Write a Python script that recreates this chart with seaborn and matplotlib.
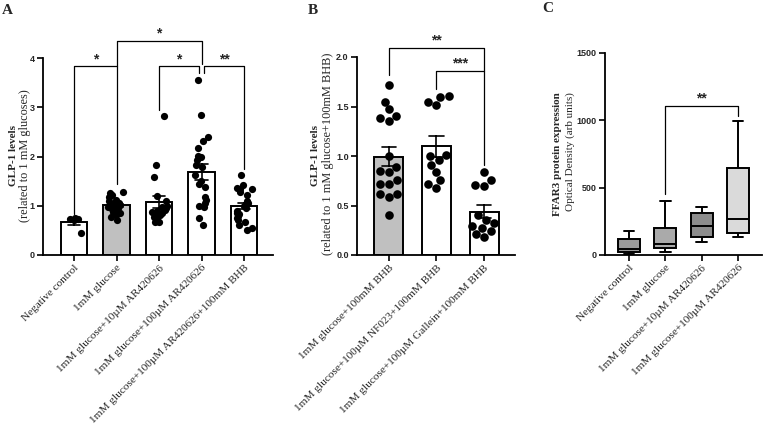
import numpy as np
import pandas as pd
import matplotlib
matplotlib.use("Agg")
import matplotlib.pyplot as plt
import seaborn as sns

# ---------------- Data ----------------
# Panel A : GLP-1 levels (related to 1 mM glucose)
a_labels = ["Negative control", "1mM glucose", "1mM glucose+10µM AR420626",
            "1mM glucose+100µM AR420626", "1mM glucose+100µM AR420626+100mM BHB"]
a_neg = [0.75, 0.74, 0.73, 0.71, 0.45]
a_glc = [1.28, 1.26, 1.22, 1.18, 1.12, 1.10, 1.08, 1.05, 1.03, 1.01, 0.99, 0.97,
         0.95, 0.93, 0.90, 0.88, 0.86, 0.82, 0.78, 0.71]
a_ar10 = [2.82, 1.82, 1.58, 1.20, 1.10, 1.00, 0.98, 0.95, 0.92, 0.90, 0.88, 0.85,
          0.82, 0.80, 0.78, 0.72, 0.68, 0.66]
a_ar100 = [3.55, 2.85, 2.40, 2.32, 2.18, 2.02, 1.98, 1.93, 1.82, 1.78, 1.62, 1.50,
           1.45, 1.38, 1.12, 1.18, 1.05, 1.00, 0.98, 0.75, 0.60]
a_bhb = [1.62, 1.42, 1.36, 1.35, 1.33, 1.28, 1.22, 1.10, 1.05, 1.00, 0.95, 0.90,
         0.86, 0.83, 0.80, 0.76, 0.72, 0.66, 0.60, 0.55, 0.50]
a_colors = ["white", "#c0c0c0", "white", "white", "white"]

# Panel B : GLP-1 levels (related to 1 mM glucose+100mM BHB)
b_labels = ["1mM glucose+100mM BHB", "1mM glucose+100µM NF023+100mM BHB",
            "1mM glucose+100µM Gallein+100mM BHB"]
b_bhb = [1.72, 1.55, 1.47, 1.40, 1.38, 1.35, 1.00, 0.89, 0.85, 0.84, 0.76, 0.72,
         0.72, 0.62, 0.62, 0.59, 0.40]
b_nf023 = [1.61, 1.60, 1.55, 1.52, 1.01, 1.00, 0.96, 0.91, 0.84, 0.76, 0.72, 0.68]
b_gallein = [0.84, 0.76, 0.71, 0.70, 0.40, 0.35, 0.32, 0.29, 0.27, 0.24, 0.21, 0.18]
b_colors = ["#c0c0c0", "white", "white"]

# Panel C : FFAR3 protein expression (min, Q1, median, Q3, max)
c_labels = ["Negative control", "1mM glucose", "1mM glucose+10µM AR420626",
            "1mM glucose+100µM AR420626"]
c_neg = [5, 20, 45, 120, 180]
c_glc = [25, 50, 80, 200, 400]
c_ar10 = [100, 135, 215, 310, 355]
c_ar100 = [130, 160, 270, 645, 995]
c_colors = ["#9a9a9a", "#aaaaaa", "#8c8c8c", "#dadada"]


def long_df(groups, labels):
    rows = []
    for lab, vals in zip(labels, groups):
        for v in vals:
            rows.append((lab, v))
    return pd.DataFrame(rows, columns=["group", "value"])


dfA = long_df([a_neg, a_glc, a_ar10, a_ar100, a_bhb], a_labels)
dfB = long_df([b_bhb, b_nf023, b_gallein], b_labels)
dfC = long_df([c_neg, c_glc, c_ar10, c_ar100], c_labels)

# ---------------- Style ----------------
sns.set_theme(style="ticks")
plt.rcParams["font.family"] = ["Liberation Serif", "DejaVu Serif"]
SERIF = ["Liberation Serif", "DejaVu Serif"]
SANS = ["Liberation Sans", "DejaVu Sans"]

W, H = 764, 428
fig = plt.figure(figsize=(W / 100, H / 100), dpi=100)


def px_axes(x0, y0, x1, y1):
    return fig.add_axes([x0 / W, 1 - y1 / H, (x1 - x0) / W, (y1 - y0) / H])


def fig_text(x, y, s, **kw):
    fig.text(x / W, 1 - y / H, s, **kw)


def style_axis(ax, labels, yticks, ytl):
    for s in ["top", "right"]:
        ax.spines[s].set_visible(False)
    for s in ["left", "bottom"]:
        ax.spines[s].set_linewidth(1.3)
        ax.spines[s].set_color("black")
    ax.set_yticks(yticks)
    ax.set_yticklabels(ytl, fontfamily=SANS, fontweight="bold", fontsize=6.5)
    ax.set_xticks(range(len(labels)))
    ax.set_xticklabels(labels, rotation=45, ha="right", va="top",
                       rotation_mode="anchor", fontfamily=SERIF, fontsize=8.1)
    ax.tick_params(axis="both", length=4, width=1.2, color="black", pad=2)
    ax.tick_params(axis="x", pad=2)
    ax.set_xlabel("")
    ax.set_ylabel("")


def bracket(ax, x1, x2, ytop, yl, yr, star, ystar, fs=10):
    ax.plot([x1, x1, x2, x2], [yl, ytop, ytop, yr], color="black", lw=0.9,
            clip_on=False, zorder=6)
    ax.text((x1 + x2) / 2, ystar, star, ha="center", va="center",
            fontsize=fs, fontweight="bold", fontfamily=SANS, clip_on=False)


# ---------------- Panel A ----------------
np.random.seed(3)
axA = px_axes(43, 58, 273, 255)
sns.barplot(data=dfA, x="group", y="value", hue="group", order=a_labels,
            hue_order=a_labels, palette=a_colors, legend=False, width=0.63,
            edgecolor="black", linewidth=1.4, errorbar="se", capsize=0.3,
            err_kws={"color": "black", "linewidth": 1.2, "zorder": 5}, ax=axA)
sns.stripplot(data=dfA, x="group", y="value", order=a_labels, color="black",
              size=5.2, jitter=0.2, ax=axA, zorder=4)
axA.set_ylim(0, 4)
axA.set_xlim(-0.73, 4.68)
style_axis(axA, a_labels, [0, 1, 2, 3, 4], ["0", "1", "2", "3", "4"])
bracket(axA, 0, 1, 3.83, 0.84, 1.45, "*", 3.97)
bracket(axA, 1, 3, 4.35, 3.83, 3.88, "*", 4.5)
bracket(axA, 2, 2.94, 3.83, 2.95, 3.70, "*", 3.97)
bracket(axA, 3.06, 4, 3.83, 3.70, 1.75, "**", 3.97)

# ---------------- Panel B ----------------
axB = px_axes(357, 57, 515, 255)
sns.barplot(data=dfB, x="group", y="value", hue="group", order=b_labels,
            hue_order=b_labels, palette=b_colors, legend=False, width=0.61,
            edgecolor="black", linewidth=1.4, errorbar="se", capsize=0.3,
            err_kws={"color": "black", "linewidth": 1.2, "zorder": 5}, ax=axB)
sns.swarmplot(data=dfB, x="group", y="value", order=b_labels, color="black",
              size=6.2, ax=axB, zorder=4)
axB.set_ylim(0, 2)
axB.set_xlim(-0.67, 2.65)
style_axis(axB, b_labels, [0, 0.5, 1.0, 1.5, 2.0],
           ["0.0", "0.5", "1.0", "1.5", "2.0"])
bracket(axB, 0, 2, 2.09, 1.815, 0.91, "**", 2.17)
bracket(axB, 1, 2, 1.86, 1.68, 1.86, "***", 1.93)

# ---------------- Panel C ----------------
axC = px_axes(605, 53, 762, 255)
sns.boxplot(data=dfC, x="group", y="value", hue="group", order=c_labels,
            hue_order=c_labels, palette=c_colors, legend=False, width=0.6,
            whis=(0, 100), linecolor="black", linewidth=1.4, showfliers=False,
            ax=axC)
axC.set_ylim(0, 1500)
axC.set_xlim(-0.66, 3.66)
style_axis(axC, c_labels, [0, 500, 1000, 1500], ["0", "500", "1000", "1500"])
bracket(axC, 1, 3, 1103, 451, 1034, "**", 1160)

# ---------------- Labels ----------------
fig_text(14, 156, "GLP-1 levels", rotation=90, ha="center", va="center",
         fontsize=8, fontweight="bold", fontfamily=SERIF)
fig_text(25, 156, "(related to 1 mM glucoses)", rotation=90, ha="center",
         va="center", fontsize=8.8, fontfamily=SERIF)
fig_text(315, 156, "GLP-1 levels", rotation=90, ha="center", va="center",
         fontsize=8, fontweight="bold", fontfamily=SERIF)
fig_text(328, 154, "(related to 1 mM glucose+100mM BHB)", rotation=90,
         ha="center", va="center", fontsize=8.8, fontfamily=SERIF)
fig_text(558, 154, "FFAR3 protein expression", rotation=90, ha="center",
         va="center", fontsize=8, fontweight="bold", fontfamily=SERIF)
fig_text(570, 152, "Optical Density (arb units)", rotation=90, ha="center",
         va="center", fontsize=8, fontfamily=SERIF)

fig_text(7, 11, "A", ha="center", va="center", fontsize=11, fontweight="bold",
         fontfamily=SERIF)
fig_text(313, 10, "B", ha="center", va="center", fontsize=11,
         fontweight="bold", fontfamily=SERIF)
fig_text(548, 9, "C", ha="center", va="center", fontsize=11,
         fontweight="bold", fontfamily=SERIF)

fig.savefig("out.png", dpi=100, facecolor="white")
